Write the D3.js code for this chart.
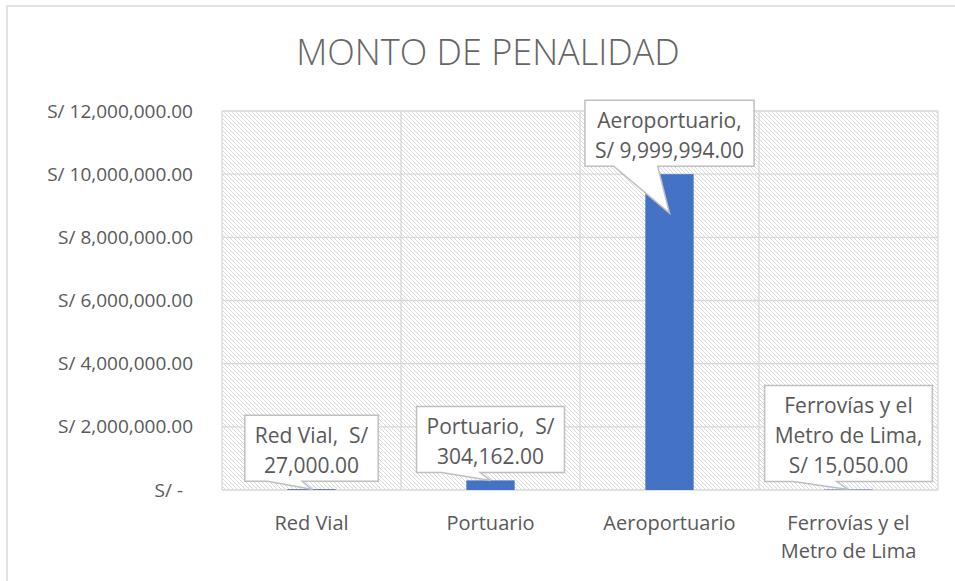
<!DOCTYPE html>
<html>
<head>
<meta charset="utf-8">
<script src="https://cdn.jsdelivr.net/npm/d3@7"></script>
<style>
  body { margin: 0; background: #fff; }
  text { font-family: "Open Sans", sans-serif; fill: #595959; white-space: pre; }
</style>
</head>
<body>
<div id="chart"></div>
<script>
// Data
const categories = ["Red Vial", "Portuario", "Aeroportuario", "Ferrovías y el Metro de Lima"];
const categoryLines = [["Red Vial"], ["Portuario"], ["Aeroportuario"], ["Ferrovías y el", "Metro de Lima"]];
const values = [27000, 304162, 9999994, 15050];
const labelLines = [
    ["Red Vial,  S/", "27,000.00"],
    ["Portuario,  S/", "304,162.00"],
    ["Aeroportuario,", "S/ 9,999,994.00"],
    ["Ferrovías y el", "Metro de Lima,", "S/ 15,050.00"]
];
const yTicks = [0, 2000000, 4000000, 6000000, 8000000, 10000000, 12000000];
// how far the callout tip reaches below the value (Aeroportuario points into its bar)
const tipDrop = [0, 0, 39, 0];

// Set dimensions
const W = 955, H = 581;
const plot = { left: 222, right: 938, top: 111, bottom: 490 };

const svg = d3.select("#chart")
    .append("svg")
    .attr("width", W)
    .attr("height", H);

// hatch pattern for the plot area
const defs = svg.append("defs");
const pat = defs.append("pattern")
    .attr("id", "hatch")
    .attr("patternUnits", "userSpaceOnUse")
    .attr("width", 4)
    .attr("height", 4);
pat.append("rect").attr("width", 4).attr("height", 4).attr("fill", "#fff");
[0, 1, 2, 3].forEach(i => {
    pat.append("rect")
        .attr("x", i).attr("y", i)
        .attr("width", 1).attr("height", 1)
        .attr("fill", "#d9d9d9");
});

// chart border (continues past the picture)
svg.append("path")
    .attr("d", `M7,${H + 5} V6 H${W + 5}`)
    .attr("fill", "none")
    .attr("stroke", "#d9d9d9")
    .attr("stroke-width", 1.5);

// Title
svg.append("text")
    .attr("x", 488)
    .attr("y", 65)
    .attr("text-anchor", "middle")
    .style("font-size", "36px")
    .style("font-weight", 300)
    .style("fill", "#666")
    .text("MONTO DE PENALIDAD");

// Scales
const x = d3.scaleBand()
    .domain(categories)
    .range([plot.left, plot.right])
    .padding(0);

const y = d3.scaleLinear()
    .domain([0, 12000000])
    .range([plot.bottom, plot.top]);

// plot area
svg.append("rect")
    .attr("x", plot.left)
    .attr("y", plot.top)
    .attr("width", plot.right - plot.left)
    .attr("height", plot.bottom - plot.top)
    .attr("fill", "url(#hatch)");

// gridlines
svg.append("g")
    .selectAll("line")
    .data(yTicks)
    .enter()
    .append("line")
    .attr("x1", plot.left)
    .attr("x2", plot.right)
    .attr("y1", d => y(d))
    .attr("y2", d => y(d))
    .attr("stroke", "#d9d9d9")
    .attr("stroke-width", 1.3);

svg.append("g")
    .selectAll("line")
    .data(categories.concat([null]))
    .enter()
    .append("line")
    .attr("x1", d => d === null ? plot.right : x(d))
    .attr("x2", d => d === null ? plot.right : x(d))
    .attr("y1", plot.top)
    .attr("y2", plot.bottom)
    .attr("stroke", "#d9d9d9")
    .attr("stroke-width", 1.3);

// Y Axis
const fmt = d3.format(",.2f");
const yAxis = svg.append("g")
    .attr("transform", "translate(193,0)")
    .call(d3.axisLeft(y)
        .tickValues(yTicks)
        .tickSize(0)
        .tickPadding(0)
        .tickFormat(d => d === 0 ? "S/ -" : "S/ " + fmt(d)));
yAxis.select(".domain").remove();
yAxis.selectAll("text")
    .attr("fill", null)
    .style("font-size", "19px")
    .attr("x", d => d === 0 ? -10 : 0);

// X Axis labels
const xLab = svg.append("g")
    .selectAll("text")
    .data(categories)
    .enter()
    .append("text")
    .attr("text-anchor", "middle")
    .attr("x", d => x(d) + x.bandwidth() / 2)
    .attr("y", 530)
    .style("font-size", "20px");
xLab.selectAll("tspan")
    .data((d, i) => categoryLines[i])
    .enter()
    .append("tspan")
    .attr("x", function () { return d3.select(this.parentNode).attr("x"); })
    .attr("dy", (d, i) => i === 0 ? 0 : 28)
    .text(d => d);

// Bars
const barW = x.bandwidth() * 0.27;
svg.selectAll("mybar")
    .data(values)
    .enter()
    .append("rect")
    .attr("x", (d, i) => x(categories[i]) + x.bandwidth() / 2 - barW / 2)
    .attr("y", d => y(d))
    .attr("width", barW)
    .attr("height", d => plot.bottom - y(d))
    .attr("fill", "#4472c4");

// Callout data labels
values.forEach((v, i) => {
    const cx = x(categories[i]) + x.bandwidth() / 2;
    const lines = labelLines[i];
    const g = svg.append("g");
    const path = g.append("path")
        .attr("fill", "#fff")
        .attr("stroke", "#bfbfbf")
        .attr("stroke-width", 1.5);
    const boxH = lines.length * 30 + 6;
    const y1 = y(v) - 8;
    const y0 = y1 - boxH;
    const t = g.append("text")
        .attr("text-anchor", "middle")
        .style("font-size", "21px");
    lines.forEach((s, k) => {
        t.append("tspan")
            .attr("x", cx)
            .attr("y", y0 + 27.5 + k * 30)
            .text(s);
    });
    let tw = 0;
    t.selectAll("tspan").each(function () { tw = Math.max(tw, this.getComputedTextLength()); });
    const boxW = tw + 20;
    const x0 = cx - boxW / 2, x1 = cx + boxW / 2;
    const xa = x0 + boxW * 0.17, xb = x0 + boxW * 0.43;
    const tipY = y(v) + tipDrop[i];
    path.attr("d", `M${x0},${y0} H${x1} V${y1} H${xb} L${cx},${tipY} L${xa},${y1} H${x0} Z`);
});
</script>
</body>
</html>
